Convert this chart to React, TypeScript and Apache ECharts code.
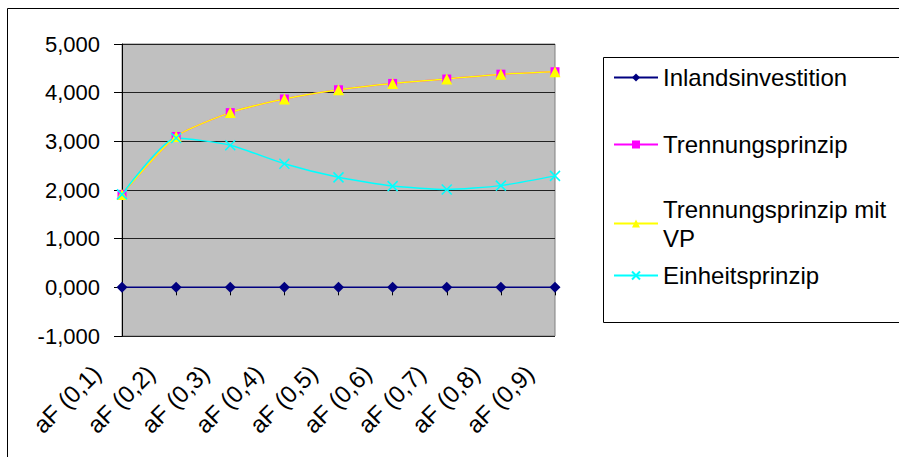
import React, { useEffect, useRef } from "react";
import * as echarts from "echarts";

const categories = ["aF (0,1)", "aF (0,2)", "aF (0,3)", "aF (0,4)", "aF (0,5)", "aF (0,6)", "aF (0,7)", "aF (0,8)", "aF (0,9)"];
const inlandsinvestition = [0, 0, 0, 0, 0, 0, 0, 0, 0];
const trennungsprinzip = [1.91, 3.1, 3.59, 3.87, 4.06, 4.19, 4.28, 4.38, 4.43];
const trennungsprinzipVP = [1.91, 3.1, 3.59, 3.87, 4.06, 4.19, 4.28, 4.38, 4.43];
const einheitsprinzip = [1.91, 3.07, 2.92, 2.54, 2.26, 2.08, 2.01, 2.09, 2.29];
const seriesNames = ["Inlandsinvestition", "Trennungsprinzip", "Trennungsprinzip mit VP", "Einheitsprinzip"];

const FONT = "'Liberation Sans', Arial, sans-serif";
const CROSS = "path://M0,0L10,10M10,0L0,10";

export default function App() {
  const ref = useRef<HTMLDivElement>(null);
  useEffect(() => {
    if (!ref.current) return;
    const chart = echarts.init(ref.current, undefined, { renderer: "svg" });
    const legendText = { fontFamily: FONT, fontSize: 24, color: "#000", lineHeight: 29 };
    const mkLegend = (name: string, top: number, extra: any = {}) => ({
      data: [name],
      left: 613,
      top,
      padding: 0,
      orient: "vertical",
      itemWidth: 44,
      itemHeight: 10,
      textStyle: { ...legendText, ...extra },
      formatter: (n: string) => (n === "Trennungsprinzip mit VP" ? "Trennungsprinzip mit\nVP" : n),
    });
    chart.setOption({
      animation: false,
      backgroundColor: "#fff",
      textStyle: { fontFamily: FONT },
      grid: {
        left: 122,
        right: 344,
        top: 44,
        bottom: 121,
        show: true,
        backgroundColor: "#C0C0C0",
        borderColor: "#808080",
        borderWidth: 1,
      },
      legend: [
        mkLegend(seriesNames[0], 63),
        mkLegend(seriesNames[1], 130),
        mkLegend(seriesNames[2], 180, { padding: [29, 0, 0, 0] }),
        mkLegend(seriesNames[3], 261),
      ],
      graphic: [
        { type: "rect", shape: { x: 7.5, y: 8.5, width: 1000, height: 1000 }, style: { fill: "none", stroke: "#000", lineWidth: 1 }, silent: true },
        { type: "rect", shape: { x: 603.5, y: 57.5, width: 500, height: 265 }, style: { fill: "none", stroke: "#000", lineWidth: 1 }, silent: true },
      ],
      xAxis: {
        type: "category",
        data: categories,
        boundaryGap: false,
        axisLine: { show: true, lineStyle: { color: "#000", width: 1 } },
        axisTick: { show: true, length: 8, lineStyle: { color: "#000" } },
        axisLabel: {
          rotate: 45,
          interval: 0,
          margin: 8,
          padding: [0, 36, 0, 0],
          fontFamily: FONT,
          fontSize: 24,
          color: "#000",
        },
        splitLine: { show: false },
      },
      yAxis: {
        type: "value",
        min: -1,
        max: 5,
        interval: 1,
        axisLine: { show: true, lineStyle: { color: "#000", width: 1 } },
        axisTick: { show: true, length: 8, lineStyle: { color: "#000" } },
        axisLabel: {
          margin: 22,
          fontFamily: FONT,
          fontSize: 22,
          color: "#000",
          formatter: (v: number) => v.toFixed(3).replace(".", ","),
        },
        splitLine: { show: true, lineStyle: { color: "#222", width: 1 } },
      },
      series: [
        {
          name: seriesNames[0],
          type: "line",
          data: inlandsinvestition,
          symbol: "diamond",
          symbolSize: 11,
          lineStyle: { color: "#000080", width: 1.5 },
          itemStyle: { color: "#000080" },
        },
        {
          name: seriesNames[1],
          type: "line",
          data: trennungsprinzip,
          smooth: 0.2,
          symbol: "rect",
          symbolSize: 9,
          lineStyle: { color: "#FF00FF", width: 1.5 },
          itemStyle: { color: "#FF00FF" },
        },
        {
          name: seriesNames[2],
          type: "line",
          data: trennungsprinzipVP,
          smooth: 0.2,
          symbol: "triangle",
          symbolSize: 11,
          lineStyle: { color: "#FFFF00", width: 1.5 },
          itemStyle: { color: "#FFFF00" },
        },
        {
          name: seriesNames[3],
          type: "line",
          data: einheitsprinzip,
          smooth: 0.2,
          symbol: CROSS,
          symbolSize: 10,
          lineStyle: { color: "#00FFFF", width: 1.5 },
          itemStyle: { color: "#00FFFF", borderColor: "#00FFFF", borderWidth: 1.5 },
        },
      ],
    });
    return () => chart.dispose();
  }, []);
  return <div ref={ref} style={{ width: 899, height: 457, position: "absolute", left: 0, top: 0 }} />;
}
